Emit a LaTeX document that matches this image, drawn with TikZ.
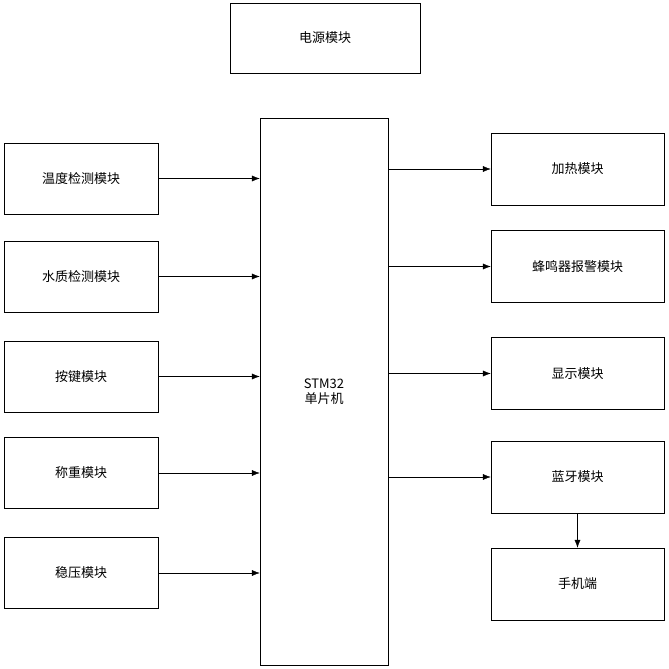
\documentclass[tikz,border=0pt]{standalone}
\usepackage{fontspec}
\setmainfont{Noto Sans CJK SC}
\usetikzlibrary{arrows.meta}

\tikzset{
  blk/.style={draw, thin, inner sep=0pt, font=\fontsize{13}{15}\selectfont},
  lbox/.style={blk, minimum width=154pt, minimum height=71pt},
  rbox/.style={blk, minimum width=173pt, minimum height=72pt},
  link/.style={thin, -{Latex[length=8pt,width=6pt]}}
}

\begin{document}
\begin{tikzpicture}[x=1pt,y=-1pt]

    \useasboundingbox (0,0) rectangle (669,669);

    \node[blk, minimum width=190pt, minimum height=70pt] (pwr) at (325,38) {电源模块};

    \node[blk, minimum width=128pt, minimum height=547pt, align=center] (mcu) at (324,391.5)
    {STM32\\单片机};

    % inputs
    \node[lbox] (temp) at (81,178.5) {温度检测模块};
    \node[lbox] (water) at (81,276.5) {水质检测模块};
    \node[lbox] (key) at (81,376.5) {按键模块};
    \node[lbox] (scale) at (81,473) {称重模块};
    \node[lbox] (reg) at (81,573) {稳压模块};

    % outputs
    \node[rbox] (heat) at (577.5,169) {加热模块};
    \node[rbox] (buzz) at (577.5,266.5) {蜂鸣器报警模块};
    \node[rbox] (disp) at (577.5,373.5) {显示模块};
    \node[rbox] (bt) at (577.5,477) {蓝牙模块};
    \node[rbox] (phone) at (577.5,584) {手机端};

    \foreach \n in {temp,water,key,scale,reg}
      \draw[link] (\n.east) -- (\n.east -| mcu.west);

    \foreach \n in {heat,buzz,disp,bt}
      \draw[link] (\n.west -| mcu.east) -- (\n.west);

    \draw[link] (bt) -- (phone);

  \end{tikzpicture}
\end{document}
